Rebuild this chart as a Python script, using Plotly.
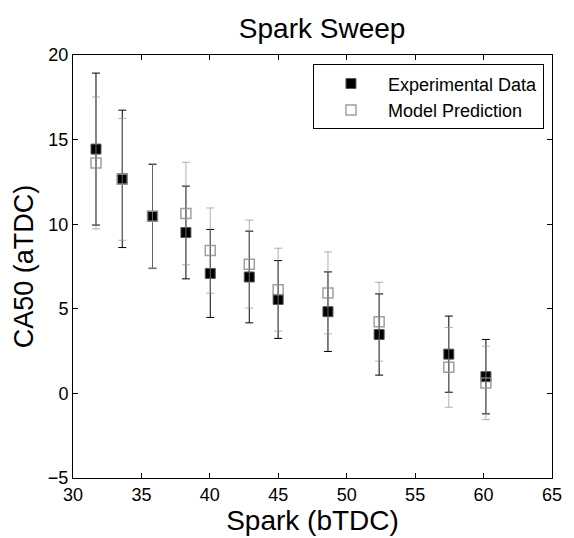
import plotly.graph_objects as go

spark = [31.68, 33.60, 35.81, 38.25, 40.03, 42.88, 44.99, 48.63, 52.37, 57.46, 60.17]
exp_ca50 = [14.44, 12.68, 10.47, 9.51, 7.09, 6.88, 5.55, 4.83, 3.48, 2.32, 0.99]
exp_err = [4.49, 4.06, 3.07, 2.74, 2.6, 2.71, 2.3, 2.35, 2.4, 2.25, 2.2]
model_ca50 = [13.62, 12.65, 10.47, 10.63, 8.44, 7.64, 6.13, 5.94, 4.24, 1.54, 0.62]
model_err = [3.9, 3.6, 3.1, 3.03, 2.52, 2.6, 2.45, 2.42, 2.33, 2.36, 2.17]

FONT = "Liberation Sans, Arial, sans-serif"

fig = go.Figure()
fig.add_trace(go.Scatter(
    x=spark, y=exp_ca50, mode="markers", name="Experimental Data",
    marker=dict(symbol="square", size=10, color="black",
                line=dict(color="#555555", width=1)),
    error_y=dict(type="data", array=exp_err, visible=True,
                 color="black", thickness=1, width=4),
))
fig.add_trace(go.Scatter(
    x=spark, y=model_ca50, mode="markers", name="Model Prediction",
    marker=dict(symbol="square-open", size=10, color="rgba(142,142,142,0.85)",
                line=dict(width=1.5)),
    error_y=dict(type="data", array=model_err, visible=True,
                 color="rgba(142,142,142,0.7)", thickness=1, width=4),
))

axis_common = dict(
    showgrid=False, zeroline=False, showline=True, linecolor="black",
    linewidth=1, mirror="ticks", ticks="inside", ticklen=5,
    tickcolor="black", tickfont=dict(family=FONT, size=18, color="black"),
)

fig.update_layout(
    width=566, height=530,
    margin=dict(l=65, r=15, t=47, b=56),
    paper_bgcolor="white", plot_bgcolor="white",
    title=dict(text="Spark Sweep", x=0.555, xanchor="center", xref="container",
               y=0.962, yanchor="middle", yref="container",
               font=dict(family=FONT, size=28, color="black")),
    xaxis=dict(range=[30, 65], tickvals=[30, 35, 40, 45, 50, 55, 60, 65],
               title=dict(text="Spark (bTDC)", standoff=2,
                          font=dict(family=FONT, size=28, color="black")),
               **axis_common),
    yaxis=dict(range=[-5, 20], tickvals=[-5, 0, 5, 10, 15, 20],
               title=dict(text="CA50 (aTDC)", standoff=6,
                          font=dict(family=FONT, size=27, color="black")),
               **axis_common),
    showlegend=True,
    legend=dict(x=0.501, xanchor="left", y=0.978, yanchor="top",
                bordercolor="black", borderwidth=1, bgcolor="white",
                font=dict(family=FONT, size=18, color="black"),
                itemwidth=64, tracegroupgap=0),
)

fig.write_html("out.html")
